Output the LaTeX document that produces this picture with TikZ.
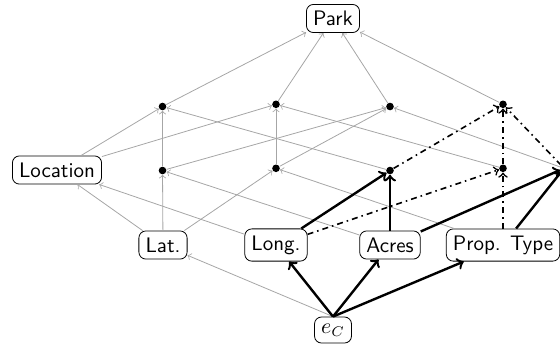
\documentclass[tikz,border=0pt]{standalone}
\begin{document}
\begin{tikzpicture}[x=0.5pt,y=-0.5pt,
  box/.style={draw,rounded corners=3.5pt,font=\sffamily\fontsize{10.5}{12.5}\selectfont},
  dot/.style={circle,fill,inner sep=0pt,minimum size=3.8pt},
  weak/.style={->,draw=black!35},
  strong/.style={->,very thick},
  partial/.style={->,thick,dash dot}]
\useasboundingbox (0,0) rectangle (560,345);
\clip (0,0) rectangle (560,345);

% top
\node[box] (park) at (333,18.5) {Park};

% three-attribute level
\node[dot] (a1) at (162.5,106.5) {};
\node[dot] (a2) at (276,104.3) {};
\node[dot] (a3) at (390,106.5) {};
\node[dot] (a4) at (503,104.3) {};

% two-attribute level
\node[box] (loc) at (57,170) {Location};
\node[dot] (b1) at (162.5,170.5) {};
\node[dot] (b2) at (276,168.3) {};
\node[dot] (b3) at (390,170.5) {};
\node[dot] (b4) at (503,168.3) {};
\node[dot] (r)  at (564,168.3) {};

% single attributes
\node[box] (lat)   at (163,245) {Lat.};
\node[box] (long)  at (276,245) {Long.};
\node[box] (acres) at (390,245) {Acres};
\node[box] (pt)    at (503,245) {Prop. Type};

% entity
\node[box] (ec) at (333,330) {$e_C$};

% light edges
\draw[weak] (ec.north) -- (lat);
\draw[weak] (lat) -- (loc);
\draw[weak] (lat) -- (b1);
\draw[weak] (lat) -- (b2);
\draw[weak] (long) -- (loc);
\draw[weak] (acres) -- (b1);
\draw[weak] (pt) -- (b2);
\draw[weak] (loc) -- (a1);
\draw[weak] (loc) -- (a2);
\draw[weak] (b1) -- (a1);
\draw[weak] (b1) -- (a3);
\draw[weak] (b2) -- (a2);
\draw[weak] (b2) -- (a3);
\draw[weak] (b3) -- (a1);
\draw[weak] (b4) -- (a2);
\draw[weak] (r) -- (a3);
\draw[weak] (a1) -- (park);
\draw[weak] (a2) -- (park);
\draw[weak] (a3) -- (park);
\draw[weak] (a4) -- (park);

% dash-dotted edges
\draw[partial] (long) -- (b4);
\draw[partial] (pt) -- (b4);
\draw[partial] (b3) -- (a4);
\draw[partial] (b4) -- (a4);
\draw[partial] (r) -- (a4);

% bold edges
\draw[strong] (ec.north) -- (long);
\draw[strong] (ec.north) -- (acres);
\draw[strong] (ec.north) -- (pt);
\draw[strong] (long) -- (b3);
\draw[strong] (acres) -- (b3);
\draw[strong] (acres) -- (r);
\draw[strong] (pt) -- (r);
\end{tikzpicture}
\end{document}
